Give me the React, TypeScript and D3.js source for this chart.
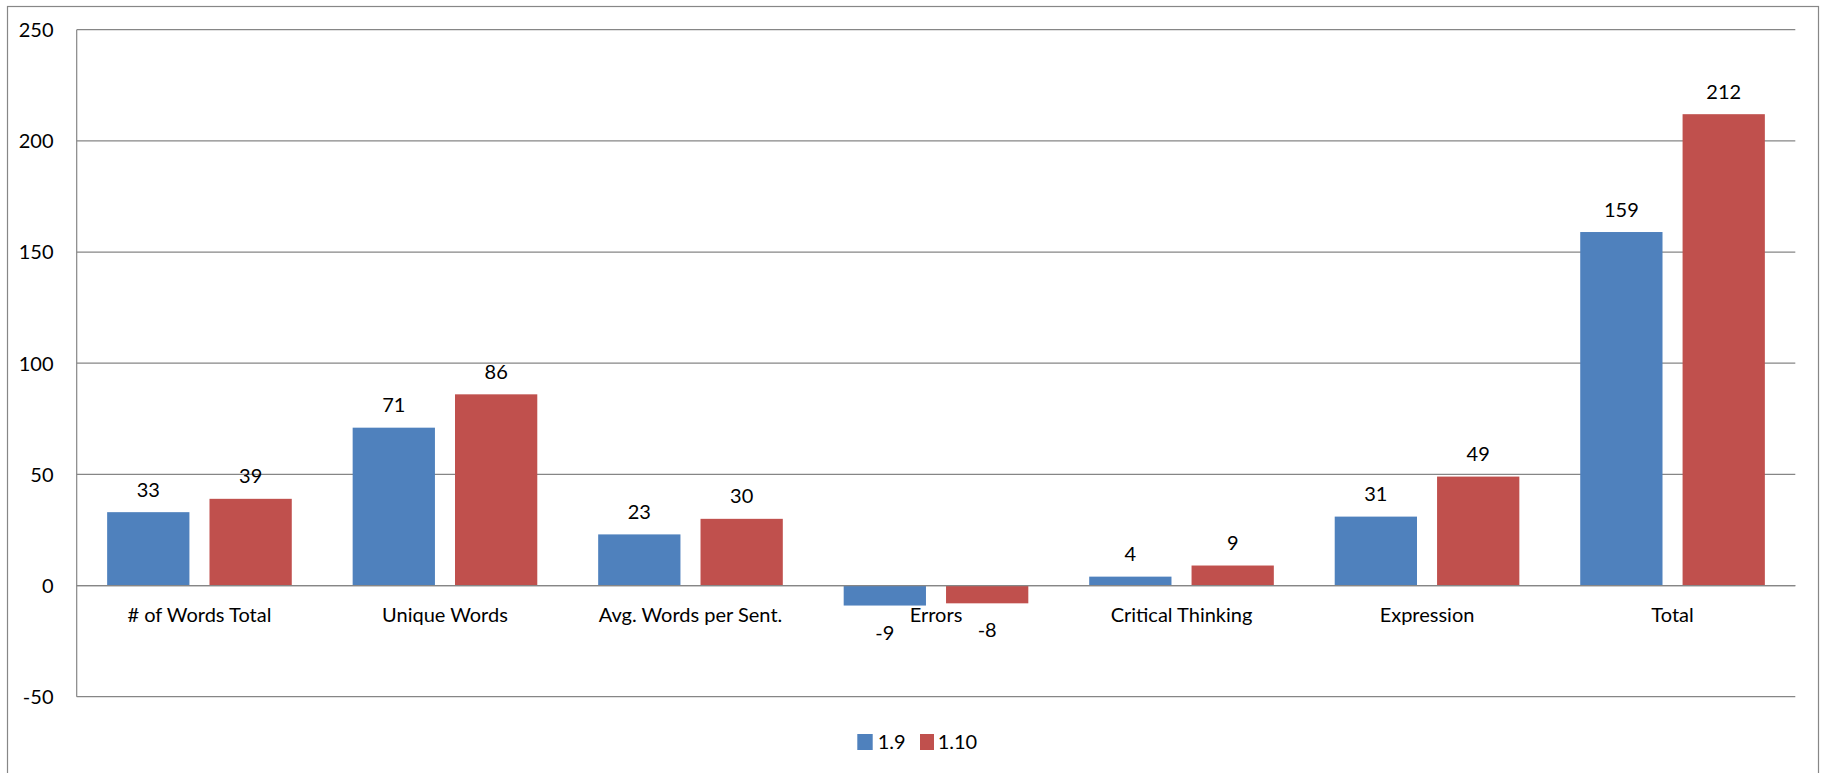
import React from "react";
import * as d3 from "d3";

const categories = [
  "# of Words Total",
  "Unique Words",
  "Avg. Words per Sent.",
  "Errors",
  "Critical Thinking",
  "Expression",
  "Total",
];
const series19 = [33, 71, 23, -9, 4, 31, 159];
const series110 = [39, 86, 30, -8, 9, 49, 212];
const seriesNames = ["1.9", "1.10"];
const seriesColors = ["#4F81BD", "#C0504D"];
const yTicks = [-50, 0, 50, 100, 150, 200, 250];

const W = 1825;
const H = 773;
const FONT = "Lato, 'Noto Sans', sans-serif";

export default function App() {
  const left = 76.7;
  const right = 1795.3;
  const top = 29.7;
  const bottom = 696.7;

  const y = d3.scaleLinear().domain([-50, 250]).range([bottom, top]);
  const x0 = d3.scaleBand<string>().domain(categories).range([left, right]).paddingInner(0).paddingOuter(0);
  const bw = x0.bandwidth();
  const pad = bw * 0.124;
  const x1 = d3
    .scaleBand<string>()
    .domain(seriesNames)
    .range([pad, bw - pad])
    .paddingInner(20 / 102)
    .paddingOuter(0);

  const allSeries = [series19, series110];

  return (
    <div style={{ position: "absolute", left: 0, top: 0 }}>
      <svg width={W} height={H} style={{ display: "block", fontFamily: FONT }}>
        <rect x={0} y={0} width={W} height={H} fill="#fff" />
        <rect x={7.5} y={6.5} width={1811} height={800} fill="#fff" stroke="#878787" strokeWidth={1.2} />
        {yTicks.map((t) => (
          <line key={t} x1={left} x2={right} y1={y(t)} y2={y(t)} stroke="#868686" strokeWidth={1.2} />
        ))}
        <line x1={left} x2={left} y1={top} y2={bottom} stroke="#868686" strokeWidth={1.2} />
        {yTicks.map((t) => (
          <text key={"l" + t} x={53.5} y={y(t) + 7.3} textAnchor="end" fontSize={20} fill="#000">
            {t}
          </text>
        ))}
        {categories.map((c, i) => (
          <g key={c} transform={`translate(${x0(c)},0)`}>
            {allSeries.map((s, k) => {
              const v = s[i];
              const bx = x1(seriesNames[k])!;
              const yTop = y(Math.max(0, v));
              const yBot = y(Math.min(0, v));
              return (
                <g key={k}>
                  <rect x={bx} y={yTop} width={x1.bandwidth()} height={yBot - yTop} fill={seriesColors[k]} />
                  <text
                    x={bx + x1.bandwidth() / 2}
                    y={v >= 0 ? y(v) - 15.5 : y(v) + 34}
                    textAnchor="middle"
                    fontSize={20}
                    fill="#000"
                  >
                    {v}
                  </text>
                </g>
              );
            })}
            <text x={bw / 2} y={y(0) + 36.5} textAnchor="middle" fontSize={20} fill="#000">
              {c}
            </text>
          </g>
        ))}
        <line x1={left} x2={right} y1={y(0)} y2={y(0)} stroke="#868686" strokeWidth={1.2} />
        <rect x={857.3} y={734} width={15.4} height={16} fill={seriesColors[0]} />
        <text x={877.7} y={748.5} fontSize={20} fill="#000">
          {seriesNames[0]}
        </text>
        <rect x={920} y={734} width={14} height={16} fill={seriesColors[1]} />
        <text x={937.7} y={748.5} fontSize={20} fill="#000">
          {seriesNames[1]}
        </text>
      </svg>
    </div>
  );
}
